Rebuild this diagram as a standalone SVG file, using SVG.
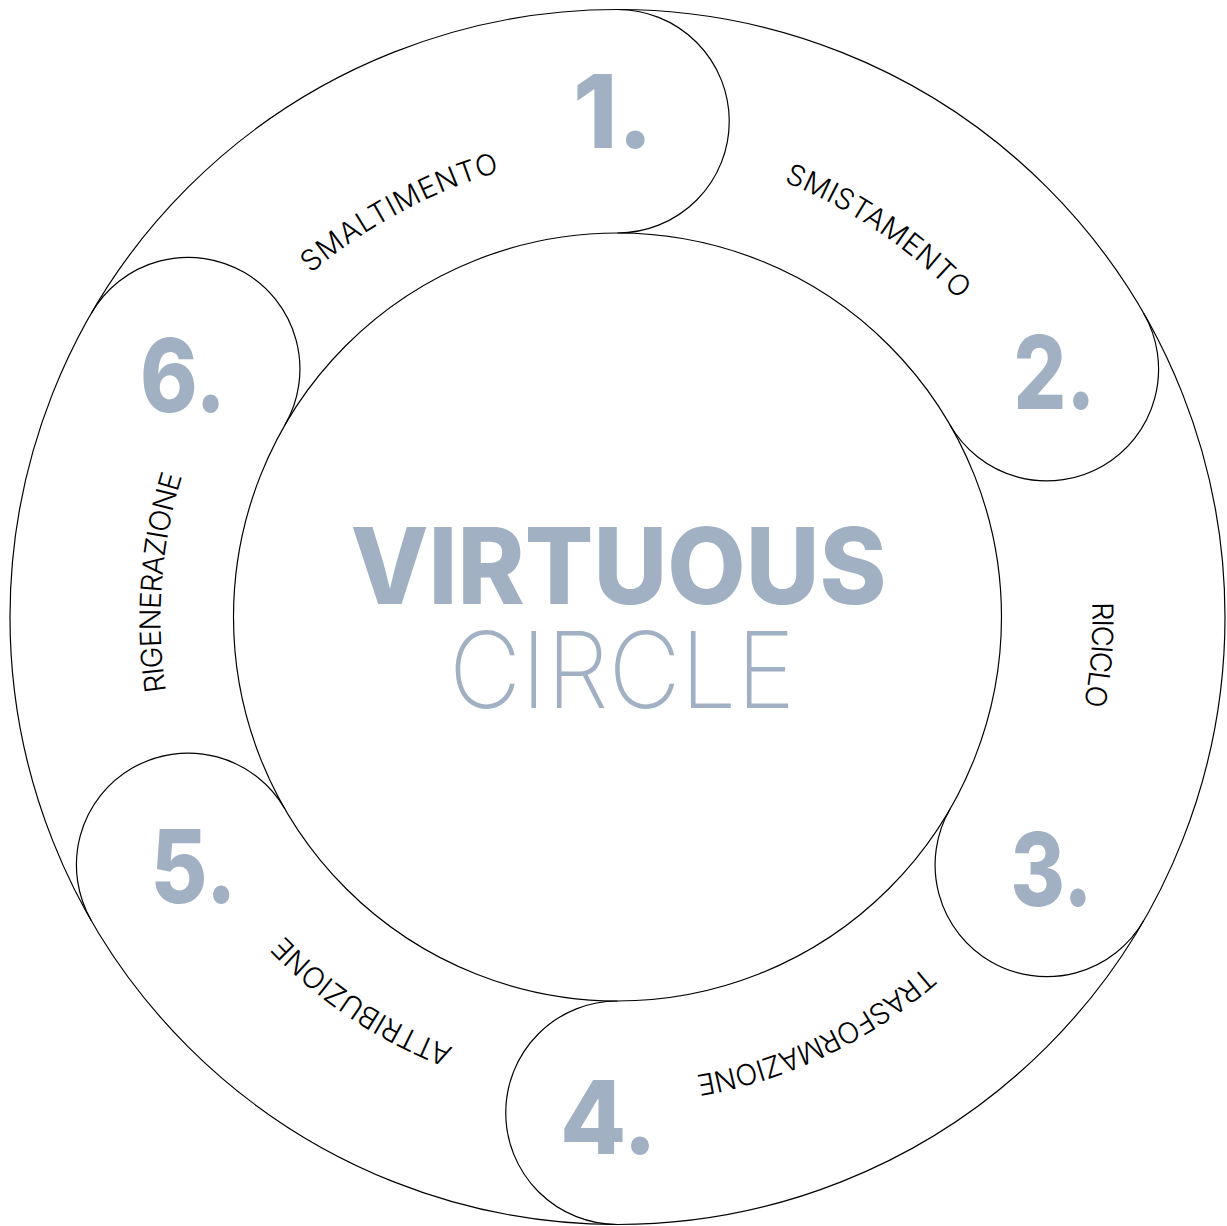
<svg xmlns="http://www.w3.org/2000/svg" width="1227" height="1226" viewBox="0 0 1227 1226">
<style>
.ln{fill:none;stroke:#000;stroke-width:1.2}
.num{font-family:Inter,"DejaVu Sans",sans-serif;font-weight:800;font-size:102px;fill:#a1b1c3;text-anchor:middle}
.lab{font-family:Inter,"DejaVu Sans",sans-serif;font-weight:300;font-size:29px;fill:#000;text-anchor:middle}
.big{font-family:Inter,"DejaVu Sans",sans-serif;fill:#a1b1c3;text-anchor:middle;font-size:106px}
</style>
<defs>
<path id="p1" d="M835.1 1021.1 A459 459 0 1 1 399.9 212.9 A459 459 0 1 1 835.1 1021.1"/>
<path id="p2" d="M357.5 1002.5 A465 465 0 1 1 877.5 231.5 A465 465 0 1 1 357.5 1002.5"/>
<path id="p3" d="M144.0 579.7 A473 473 0 1 1 1091.0 654.3 A473 473 0 1 1 144.0 579.7"/>
<path id="p4" d="M417.3 197.3 A465 465 0 1 1 817.7 1036.7 A465 465 0 1 1 417.3 197.3"/>
<path id="p5" d="M872.6 233.0 A461 461 0 1 1 362.4 1001.0 A461 461 0 1 1 872.6 233.0"/>
<path id="p6" d="M1073.0 651.3 A456.8 456.8 0 1 1 162.0 582.7 A456.8 456.8 0 1 1 1073.0 651.3"/>
</defs>
<rect width="1227" height="1226" fill="#fff"/>
<g id="connectors">
<circle class="ln" cx="617.5" cy="617" r="607.5"/>
<circle class="ln" cx="617.5" cy="617" r="384"/>
</g>
<g id="node1">
<path class="ln" d="M617.5 9.5 A111.75 111.75 0 0 1 617.5 233"/>
<text class="num" x="613" y="148" textLength="80" lengthAdjust="spacingAndGlyphs">1.</text>
<text class="lab"><textPath href="#p1" startOffset="50%" textLength="216">SMALTIMENTO</textPath></text>
</g>
<g id="node2">
<path class="ln" d="M1143.61 313.25 A111.75 111.75 0 0 1 950.05 425"/>
<text class="num" x="1054.5" y="409" textLength="82" lengthAdjust="spacingAndGlyphs">2.</text>
<text class="lab"><textPath href="#p2" startOffset="50%" textLength="213">SMISTAMENTO</textPath></text>
</g>
<g id="node3">
<path class="ln" d="M1143.61 920.75 A111.75 111.75 0 0 1 950.05 809"/>
<text class="num" x="1051.5" y="906" textLength="82" lengthAdjust="spacingAndGlyphs">3.</text>
<text class="lab"><textPath href="#p3" startOffset="50%" textLength="104">RICICLO</textPath></text>
</g>
<g id="node4">
<path class="ln" d="M617.5 1224.5 A111.75 111.75 0 0 1 617.5 1001"/>
<text class="num" x="608.5" y="1154" textLength="97" lengthAdjust="spacingAndGlyphs">4.</text>
<text class="lab"><textPath href="#p4" startOffset="50%" textLength="257">TRASFORMAZIONE</textPath></text>
</g>
<g id="node5">
<path class="ln" d="M91.39 920.75 A111.75 111.75 0 0 1 284.95 809"/>
<text class="num" x="193.5" y="903" textLength="86" lengthAdjust="spacingAndGlyphs">5.</text>
<text class="lab"><textPath href="#p5" startOffset="50%" textLength="205">ATTRIBUZIONE</textPath></text>
</g>
<g id="node6">
<path class="ln" d="M91.39 313.25 A111.75 111.75 0 0 1 284.95 425"/>
<text class="num" x="183" y="412" textLength="86" lengthAdjust="spacingAndGlyphs">6.</text>
<text class="lab"><textPath href="#p6" startOffset="50%" textLength="218">RIGENERAZIONE</textPath></text>
</g>
<g id="title">
<text class="big" x="618.5" y="604" font-weight="800" textLength="536" lengthAdjust="spacingAndGlyphs">VIRTUOUS</text>
<text class="big" x="622" y="708" font-weight="200" textLength="346" lengthAdjust="spacingAndGlyphs">CIRCLE</text>
</g>
</svg>
